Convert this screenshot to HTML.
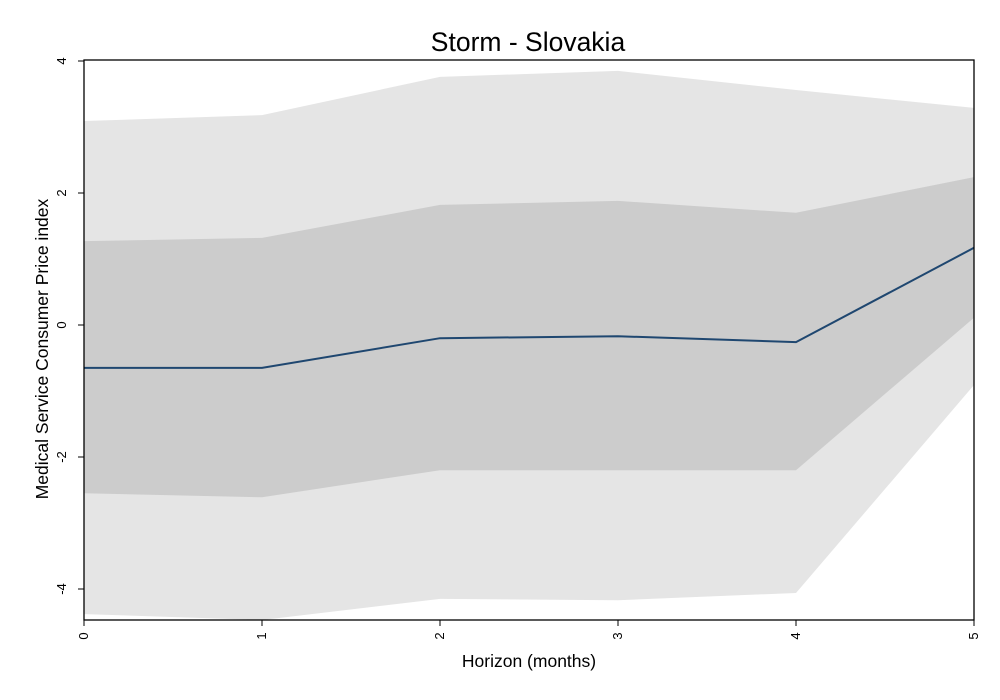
<!DOCTYPE html>
<html><head><meta charset="utf-8"><style>body{margin:0;background:#fff}svg{display:block;font-family:"Liberation Sans",Arial,sans-serif}</style></head>
<body>
<svg id="chart" width="1000" height="700" viewBox="0 0 1000 700">
<rect width="1000" height="700" fill="#fff"/>
<defs><clipPath id="pc"><rect x="84" y="60" width="890" height="560"/></clipPath></defs>
<g id="bands" clip-path="url(#pc)"></g>
<g id="axes"></g>
<text x="528" y="51" font-size="26.5" text-anchor="middle">Storm - Slovakia</text>
<text x="529" y="667" font-size="17.5" text-anchor="middle">Horizon (months)</text>
<text transform="translate(48,349) rotate(-90)" font-size="17.5" text-anchor="middle">Medical Service Consumer Price index</text>
</svg>
<script>
const horizons=[0,1,2,3,4,5];
const irf=[-0.65,-0.65,-0.20,-0.17,-0.26,1.17];
const innerUpper=[1.27,1.32,1.82,1.88,1.70,2.24];
const innerLower=[-2.55,-2.61,-2.20,-2.20,-2.20,0.11];
const outerUpper=[3.09,3.18,3.76,3.85,3.56,3.29];
const outerLower=[-4.38,-4.47,-4.15,-4.17,-4.06,-0.91];
const yTicks=[-4,-2,0,2,4];
const xTicks=[0,1,2,3,4,5];
const NS="http://www.w3.org/2000/svg";
const X=v=>84+v*178, Y=v=>325-v*66;
const bands=document.getElementById('bands'), axes=document.getElementById('axes');
function mk(p,t,a){const e=document.createElementNS(NS,t);for(const k in a)e.setAttribute(k,a[k]);p.appendChild(e);return e;}
function band(up,lo,fill,name){
 let d=horizons.map((h,i)=>(i?'L':'M')+X(h)+','+Y(up[i])).join('');
 for(let i=horizons.length-1;i>=0;i--)d+='L'+X(horizons[i])+','+Y(lo[i]);
 const e=mk(bands,'path',{d:d+'Z',fill:fill});
 
 
}
band(outerUpper,outerLower,'#e5e5e5','outer-confidence-band');
band(innerUpper,innerLower,'#cccccc','inner-confidence-band');
const ln=mk(bands,'path',{d:horizons.map((h,i)=>(i?'L':'M')+X(h)+','+Y(irf[i])).join(''),fill:'none',stroke:'#1f4770','stroke-width':2});


const fr=mk(axes,'rect',{x:84,y:60,width:890,height:560,fill:'none',stroke:'#000','stroke-width':1.3});


yTicks.forEach(t=>{
 const tk=mk(axes,'line',{x1:78,x2:84,y1:Y(t),y2:Y(t),stroke:'#000'});
 
 
 const tx=mk(axes,'text',{transform:`translate(66,${Y(t)}) rotate(-90)`,'font-size':13,'text-anchor':'middle'});
 tx.textContent=t;
 
 
});
xTicks.forEach(t=>{
 const tk=mk(axes,'line',{x1:X(t),x2:X(t),y1:620,y2:626,stroke:'#000'});
 
 
 const tx=mk(axes,'text',{transform:`translate(${X(t)+4},636) rotate(-90)`,'font-size':13,'text-anchor':'middle'});
 tx.textContent=t;
 
 
});
</script>
</body></html>
